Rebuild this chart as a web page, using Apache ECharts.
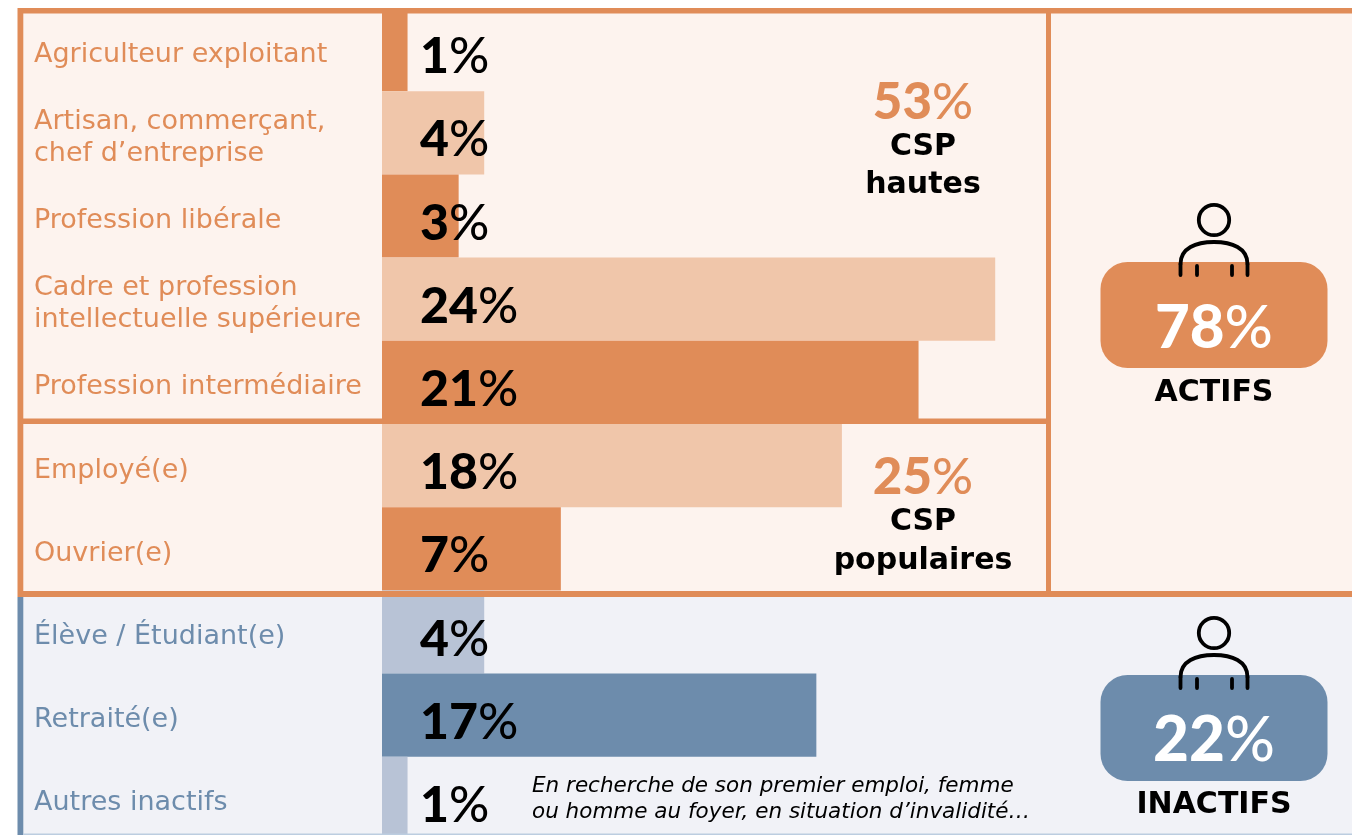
<!DOCTYPE html>
<html><head><meta charset="utf-8">
<style>html,body{margin:0;padding:0;background:#fff}#c{width:1352px;height:835px}</style>
<script src="https://cdn.jsdelivr.net/npm/echarts@6/dist/echarts.min.js"></script>
</head><body><div id="c"></div>
<script>
const categories = ["Agriculteur exploitant","Artisan, commerçant,\nchef d’entreprise","Profession libérale","Cadre et profession\nintellectuelle supérieure","Profession intermédiaire","Employé(e)","Ouvrier(e)","Élève / Étudiant(e)","Retraité(e)","Autres inactifs"];
const shares = [1,4,3,24,21,18,7,4,17,1];
const barColors = ["#e08c58","#f0c6aa","#e08c58","#f0c6aa","#e08c58","#f0c6aa","#e08c58","#b8c3d6","#6d8cac","#b8c3d6"];
const labelColors = ["#e08c58","#e08c58","#e08c58","#e08c58","#e08c58","#e08c58","#e08c58","#6d8cac","#6d8cac","#6d8cac"];

const ORANGE="#e08c58", BLUE="#6d8cac", PEACH="#fdf3ee", MIST="#f1f2f7";
const HEAVY="'DejaVu Sans'", NUM="Lato";
const rect=(x,y,w,h,fill,z)=>({type:'rect',shape:{x,y,width:w,height:h},style:{fill},z,silent:true});
const txt=(x,y,text,font,fill,align)=>({type:'text',x,y,z:20,silent:true,style:{text,font,fill,align:align||'center',verticalAlign:'middle'}});
function person(cy){
  const stroke={stroke:'#000',lineWidth:3.8,fill:null,lineCap:'round'};
  const ln=(x1,y1,x2,y2)=>({type:'line',shape:{x1,y1,x2,y2},style:stroke,z:21,silent:true});
  const bz=(x1,y1,cpx1,cpy1,cpx2,cpy2,x2,y2)=>({type:'bezierCurve',shape:{x1,y1,cpx1,cpy1,cpx2,cpy2,x2,y2},style:stroke,z:21,silent:true});
  return [
    {type:'circle',shape:{cx:1214,cy,r:15.2},style:stroke,z:21,silent:true},
    bz(1180.5,cy+44,1180.5,cy+28,1196,cy+22,1214,cy+22),
    bz(1214,cy+22,1232,cy+22,1247.5,cy+28,1247.5,cy+44),
    ln(1180.5,cy+44,1180.5,cy+55),ln(1247.5,cy+44,1247.5,cy+55),
    ln(1197,cy+46,1197,cy+55),ln(1232,cy+46,1232,cy+55)
  ];
}
function pct(x,y,num,size,fill){
  return {type:'text',x,y,z:20,silent:true,style:{
    rich:{n:{font:`900 ${size}px ${NUM}`,fill},p:{font:`500 ${size}px ${NUM}`,fill}},
    text:`{n|${num}}{p|%}`,align:'center',verticalAlign:'middle'}};
}
const graphics=[
  rect(18,8,1334,589,PEACH,-5),
  rect(18,597,1334,238,MIST,-5),
  rect(18,8,1334,5.5,ORANGE,10),
  rect(17.5,8,5.8,589,ORANGE,10),
  rect(17.5,597,5.8,238,BLUE,10),
  rect(18,418.5,1032,5.5,ORANGE,10),
  rect(18,591,1334,6,ORANGE,10),
  rect(1046,8,5,589,ORANGE,10),
  rect(23,833.5,1329,1.5,"#bccde0",10),
  pct(923,103,"53",51,ORANGE),
  txt(923,147,"CSP",`bold 30px ${HEAVY}`,"#000"),
  txt(923,185,"hautes",`bold 30px ${HEAVY}`,"#000"),
  pct(923,478,"25",51,ORANGE),
  txt(923,522,"CSP",`bold 30px ${HEAVY}`,"#000"),
  txt(923,561,"populaires",`bold 30px ${HEAVY}`,"#000"),
  {type:'rect',shape:{x:1100.5,y:262,width:227,height:106,r:27},style:{fill:ORANGE},z:15,silent:true},
  {type:'rect',shape:{x:1100.5,y:675,width:227,height:106,r:27},style:{fill:BLUE},z:15,silent:true},
  pct(1214,329,"78",60,"#fff"),
  pct(1214,741,"22",62,"#fff"),
  txt(1214,393,"ACTIFS",`bold 30px ${HEAVY}`,"#000"),
  txt(1214,805,"INACTIFS",`bold 30px ${HEAVY}`,"#000"),
  ...person(220),...person(633),
  txt(532,786,"En recherche de son premier emploi, femme",`italic 21.5px ${HEAVY}`,"#000",'left'),
  txt(532,812,"ou homme au foyer, en situation d’invalidité…",`italic 21.5px ${HEAVY}`,"#000",'left')
];
const chart=echarts.init(document.getElementById('c'),null,{renderer:'canvas'});
chart.setOption({
  animation:false,
  backgroundColor:'#fff',
  grid:{left:382,top:8,width:664.3,height:832,containLabel:false,outerBoundsMode:'none'},
  xAxis:{type:'value',min:0,max:26,show:false},
  yAxis:{type:'category',inverse:true,data:categories,
    axisLine:{show:false},axisTick:{show:false},splitLine:{show:false},
    axisLabel:{margin:348,align:'left',padding:[10,0,0,0],interval:0,
      formatter:v=>v.split('\n').map(l=>`{a|${l}}`).join('\n'),
      rich:{a:{fontFamily:"DejaVu Sans",fontSize:27,lineHeight:32}},
      color:(v,i)=>labelColors[i]}},
  series:[{type:'bar',data:shares,barWidth:'100%',z:5,
    itemStyle:{color:p=>barColors[p.dataIndex]},
    label:{show:true,position:'insideLeft',distance:38,offset:[0,7.5],
      formatter:p=>`{n|${p.value}}{p|%}`,
      rich:{n:{fontFamily:NUM,fontWeight:900,fontSize:50,color:'#000'},p:{fontFamily:NUM,fontWeight:500,fontSize:50,color:'#000'}}}}],
  graphic:{elements:graphics}
});
</script></body></html>
